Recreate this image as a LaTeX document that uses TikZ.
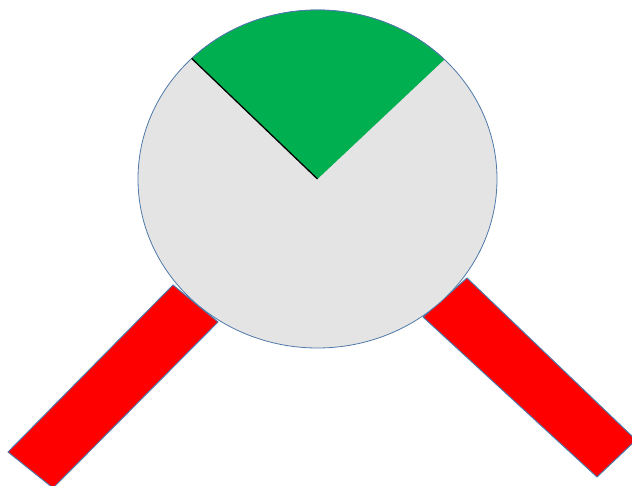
\documentclass[tikz,border=0pt]{standalone}
\usetikzlibrary{calc}
\definecolor{outl}{HTML}{4F79A8}
\definecolor{disc}{HTML}{E4E4E4}
\definecolor{grn}{HTML}{00B050}
\tikzset{
  bar/.style={fill=red, draw=outl, line width=1pt, line join=miter},
  dial/.style={fill=disc, draw=outl, line width=0.8pt},
  sector/.style={fill=grn},
}
\begin{document}
\begin{tikzpicture}[x=1pt,y=-1pt]
\useasboundingbox (0,0) rectangle (632,486);
% red bars (behind)
\draw[bar] (173,285) -- (218,322) -- (53,488) -- (8,452) -- cycle;
\draw[bar] (423,317) -- (467,278) -- (636,440) -- (597,477) -- cycle;
% dial
\coordinate (c) at (317.5,179);
\draw[dial] (c) ellipse [x radius=179.5, y radius=169];
% green sector
\coordinate (pl) at ($(c)+(-134.5:179.5 and 169)$);
\fill[sector] (c) -- (pl) arc[start angle=-134.5, end angle=-45, x radius=179.5, y radius=169] -- cycle;
\draw[outl, line width=0.8pt] (pl) arc[start angle=-134.5, end angle=-45, x radius=179.5, y radius=169];
\draw[black, line width=1.3pt] (c) -- (pl);
\end{tikzpicture}
\end{document}
